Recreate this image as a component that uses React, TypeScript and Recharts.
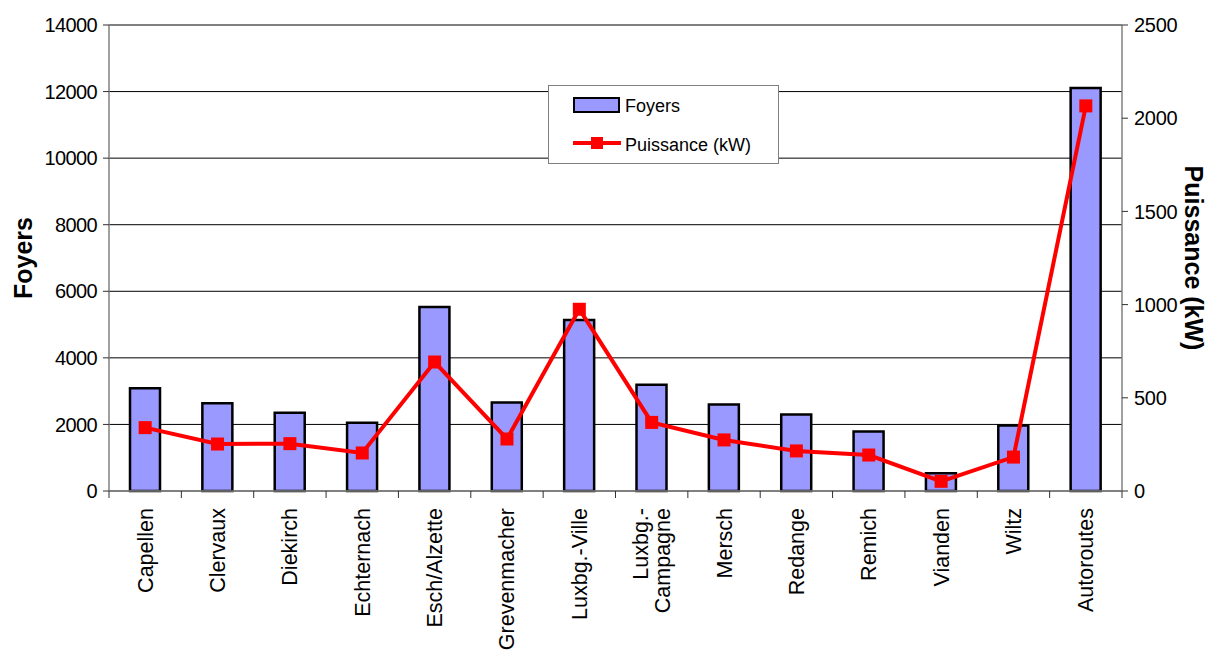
import React from 'react';
import {
  ComposedChart,
  Bar,
  Line,
  XAxis,
  YAxis,
  CartesianGrid,
  Legend,
  Label,
} from 'recharts';

const categories = [
  'Capellen',
  'Clervaux',
  'Diekirch',
  'Echternach',
  'Esch/Alzette',
  'Grevenmacher',
  'Luxbg.-Ville',
  'Luxbg.-\nCampagne',
  'Mersch',
  'Redange',
  'Remich',
  'Vianden',
  'Wiltz',
  'Autoroutes',
];
const foyers = [3090, 2640, 2350, 2050, 5530, 2660, 5140, 3190, 2600, 2300, 1790, 530, 1970, 12110];
const puissance = [340, 252, 254, 204, 692, 279, 975, 368, 274, 215, 193, 52, 182, 2066];
const leftTicks = [0, 2000, 4000, 6000, 8000, 10000, 12000, 14000];
const rightTicks = [0, 500, 1000, 1500, 2000, 2500];

const data = categories.map((name, i) => ({ name, foyers: foyers[i], puissance: puissance[i] }));

const FONT = '"Liberation Sans", Arial, Helvetica, sans-serif';
const BAR_FILL = '#9999FF';
const RED = '#FF0000';

const XTick = (props: any) => {
  const { x, y, payload, index } = props;
  const half = payload && typeof payload.offset === 'number' && payload.offset > 0 ? payload.offset : 36.18;
  const lines = String(payload.value).split('\n');
  const n = lines.length;
  const isLast = index === categories.length - 1;
  const ty = y + 17;
  return (
    <g>
      <line x1={x - half} y1={y} x2={x - half} y2={y + 7} stroke="#303030" strokeWidth={1} />
      {isLast && <line x1={x + half} y1={y} x2={x + half} y2={y + 7} stroke="#303030" strokeWidth={1} />}
      <text
        x={x}
        y={ty}
        transform={`rotate(-90, ${x}, ${ty})`}
        textAnchor="end"
        fontFamily={FONT}
        fontSize={21.5}
        fill="#000"
      >
        {lines.map((l, i) => (
          <tspan key={i} x={x} dy={i === 0 ? `${0.35 - ((n - 1) * 1.02) / 2}em` : '1.02em'}>
            {l}
          </tspan>
        ))}
      </text>
    </g>
  );
};

const LegendBox = () => (
  <div
    style={{
      width: 231,
      height: 79,
      boxSizing: 'border-box',
      border: '1px solid #808080',
      background: '#fff',
      position: 'relative',
    }}
  >
    <svg width={229} height={77} style={{ position: 'absolute', left: 0, top: 0 }}>
      <rect x={25} y={12} width={45} height={14} fill={BAR_FILL} stroke="#000" strokeWidth={2} />
      <text x={76} y={20} dy="0.35em" fontFamily={FONT} fontSize={18} fill="#000">
        Foyers
      </text>
      <line x1={24} y1={57} x2={72} y2={57} stroke={RED} strokeWidth={4} />
      <rect x={42} y={51} width={12} height={12} fill={RED} />
      <text x={76} y={59} dy="0.35em" fontFamily={FONT} fontSize={18} fill="#000">
        Puissance (kW)
      </text>
    </svg>
  </div>
);

const SquareDot = (props: any) => {
  const { cx, cy, index } = props;
  if (cx == null || cy == null) return <g key={`d${index}`} />;
  return <rect key={`d${index}`} x={cx - 6.5} y={cy - 6.5} width={13} height={13} fill={RED} />;
};

export default function App() {
  return (
    <div style={{ position: 'absolute', left: 0, top: 0, width: 1210, height: 650, background: '#fff' }}>
      <ComposedChart
        width={1210}
        height={650}
        data={data}
        margin={{ top: 25, right: 28, bottom: 0, left: 49 }}
        barCategoryGap={0}
      >
        <CartesianGrid vertical={false} stroke="#000" strokeWidth={1} yAxisId="left" />
        <XAxis
          dataKey="name"
          height={159}
          interval={0}
          tickLine={false}
          tickSize={0}
          tickMargin={0}
          axisLine={{ stroke: '#808080', strokeWidth: 1.5 }}
          tick={<XTick />}
        />
        <YAxis
          yAxisId="left"
          orientation="left"
          width={60}
          domain={[0, 14000]}
          ticks={leftTicks}
          interval={0}
          tickSize={6}
          tickMargin={6}
          axisLine={{ stroke: '#808080', strokeWidth: 1.5 }}
          tickLine={{ stroke: '#303030' }}
          tick={{ fontFamily: FONT, fontSize: 20, fill: '#000', letterSpacing: -0.6 }}
        >
          <Label
            content={(p: any) => {
              const vb = p.viewBox || { x: 49, y: 25, width: 60, height: 466 };
              const cx = vb.x - 26;
              const cy = vb.y + vb.height / 2;
              return (
                <text
                  x={cx}
                  y={cy}
                  transform={`rotate(-90, ${cx}, ${cy})`}
                  textAnchor="middle"
                  dy="0.35em"
                  fontFamily={FONT}
                  fontWeight="bold"
                  fontSize={25}
                  fill="#000"
                >
                  Foyers
                </text>
              );
            }}
          />
        </YAxis>
        <YAxis
          yAxisId="right"
          orientation="right"
          width={60}
          domain={[0, 2500]}
          ticks={rightTicks}
          interval={0}
          tickSize={6}
          tickMargin={6}
          axisLine={{ stroke: '#808080', strokeWidth: 1.5 }}
          tickLine={{ stroke: '#303030' }}
          tick={{ fontFamily: FONT, fontSize: 20, fill: '#000', letterSpacing: -0.3 }}
        >
          <Label
            content={(p: any) => {
              const vb = p.viewBox || { x: 1122, y: 25, width: 60, height: 466 };
              const cx = vb.x + vb.width + 12;
              const cy = vb.y + vb.height / 2;
              return (
                <text
                  x={cx}
                  y={cy}
                  transform={`rotate(90, ${cx}, ${cy})`}
                  textAnchor="middle"
                  dy="0.35em"
                  fontFamily={FONT}
                  fontWeight="bold"
                  fontSize={25}
                  fill="#000"
                >
                  Puissance (kW)
                </text>
              );
            }}
          />
        </YAxis>
        <Legend
          layout="horizontal"
          verticalAlign="middle"
          align="center"
          content={<LegendBox />}
          wrapperStyle={{ left: 548, top: 85, width: 231, height: 79, right: 'auto', bottom: 'auto' }}
        />
        <Bar
          yAxisId="left"
          dataKey="foyers"
          name="Foyers"
          barSize={30}
          fill={BAR_FILL}
          stroke="#000"
          strokeWidth={2.5}
          isAnimationActive={false}
        />
        <Line
          yAxisId="right"
          dataKey="puissance"
          name="Puissance (kW)"
          type="linear"
          stroke={RED}
          strokeWidth={4}
          dot={<SquareDot />}
          activeDot={false}
          isAnimationActive={false}
        />
      </ComposedChart>
    </div>
  );
}
